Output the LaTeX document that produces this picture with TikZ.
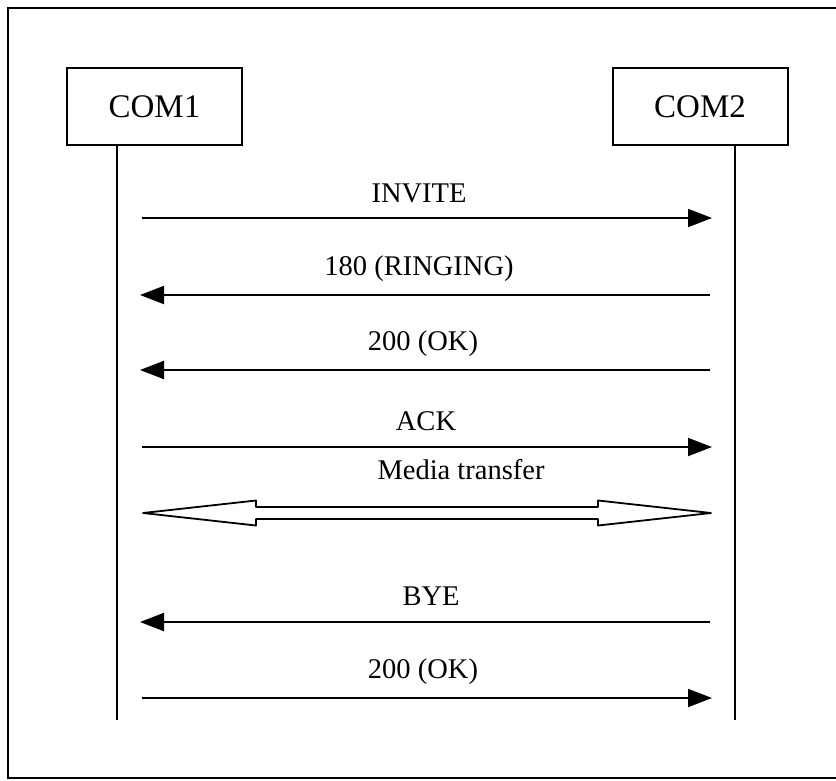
\documentclass[tikz,border=0pt]{standalone}
\usepackage{fontspec}
\setmainfont{Liberation Serif}
\usetikzlibrary{arrows.meta}
\begin{document}
\begin{tikzpicture}[x=1pt,y=-1pt,
  ent/.style={draw,line width=2pt,minimum width=175pt,minimum height=77pt,inner sep=0pt,font=\fontsize{33}{36}\selectfont},
  life/.style={line width=2pt},
  msg/.style={line width=2pt,-{Triangle[length=24pt,width=18pt]},shorten <=25pt,shorten >=23pt},
  lbl/.style={font=\fontsize{28.5}{31}\selectfont,inner sep=0pt},
  frame/.style={line width=2pt}]
\useasboundingbox (0,0) rectangle (836,780);
\draw[frame] (836,8) -- (8,8) -- (8,778) -- (836,778);
\node[ent] (c1) at (154.5,106.5) {COM1};
\node[ent] (c2) at (700,106.5) {COM2};
\coordinate (l1) at (117,145);
\coordinate (l1e) at (117,720);
\coordinate (l2) at (735,145);
\coordinate (l2e) at (735,720);
\draw[life] (l1) -- (l1e);
\draw[life] (l2) -- (l2e);
% message coordinates
\foreach \n/\y in {1/218,2/295,3/370,4/447,5/513,6/622,7/698}{
  \coordinate (a\n) at (117,\y);
  \coordinate (b\n) at (735,\y);
}
\draw[msg] (a1) -- (b1);
\node[lbl] (t1) at (419,193) {INVITE};
\draw[msg] (b2) -- (a2);
\node[lbl] (t2) at (419,269) {180 (RINGING)};
\draw[msg] (b3) -- (a3);
\node[lbl] (t3) at (423,344) {200 (OK)};
\draw[msg] (a4) -- (b4);
\node[lbl] (t4) at (426,421) {ACK};
% media transfer double hollow arrow
\draw[line width=1.8pt,line join=round]
  (143,513) -- (256,500.5) -- (256,507) -- (598,507) -- (598,500.5) -- (711,513)
  -- (598,525.5) -- (598,519) -- (256,519) -- (256,525.5) -- cycle;
\node[lbl] (t5) at (461,470) {Media transfer};
\draw[msg] (b6) -- (a6);
\node[lbl] (t6) at (431,596) {BYE};
\draw[msg] (a7) -- (b7);
\node[lbl] (t7) at (423,672) {200 (OK)};
\end{tikzpicture}
\end{document}
